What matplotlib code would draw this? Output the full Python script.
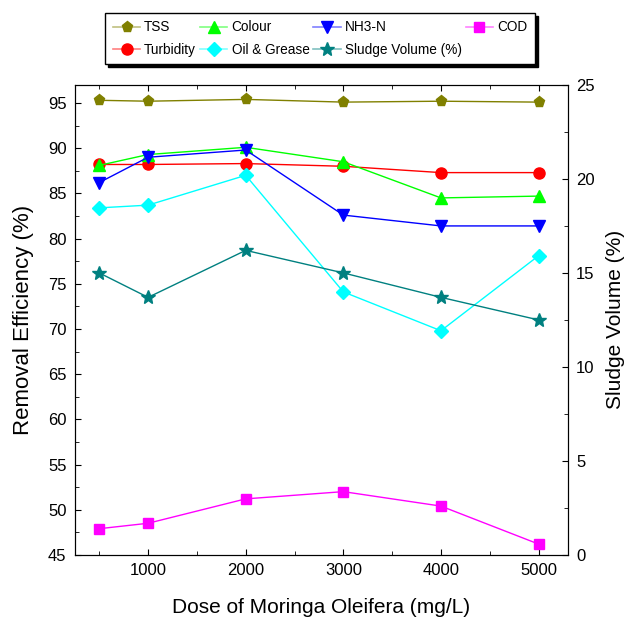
import matplotlib
matplotlib.use("Agg")
import matplotlib.pyplot as plt
from matplotlib.lines import Line2D
from matplotlib.colors import to_rgb
from matplotlib.ticker import MultipleLocator

plt.rcParams["font.family"] = ["Liberation Sans", "DejaVu Sans"]

dose = [500, 1000, 2000, 3000, 4000, 5000]
tss = [95.3, 95.2, 95.4, 95.1, 95.2, 95.1]
turbidity = [88.2, 88.2, 88.3, 88.0, 87.3, 87.3]
colour = [88.1, 89.3, 90.1, 88.5, 84.5, 84.7]
nh3 = [86.2, 89.0, 89.8, 82.6, 81.4, 81.4]
oil = [83.4, 83.7, 87.0, 74.1, 69.8, 78.1]
cod = [47.9, 48.5, 51.2, 52.0, 50.4, 46.2]
sludge = [15.0, 13.7, 16.2, 15.0, 13.7, 12.5]

fig = plt.figure(figsize=(6.24, 6.2), dpi=100)
ax = fig.add_axes([0.12, 0.105, 0.79, 0.758])
ax2 = ax.twinx()

styles = [
    ("TSS", tss, "olive", "p", 8),
    ("Turbidity", turbidity, "red", "o", 8),
    ("Colour", colour, "lime", "^", 8),
    ("Oil & Grease", oil, "cyan", "D", 7),
    ("NH3-N", nh3, "blue", "v", 8),
    ("Sludge Volume (%)", sludge, "teal", "*", 10),
    ("COD", cod, "magenta", "s", 7),
]

handles = []
for name, vals, c, m, ms in styles:
    target = ax2 if name.startswith("Sludge") else ax
    target.plot(dose, vals, color=c, marker=m, ms=ms, lw=1)
    # legend line drawn paler than the marker, as in the original
    light = tuple(0.5 + 0.5 * v for v in to_rgb(c))
    handles.append(Line2D([], [], color=light, lw=1.2, marker=m, ms=ms,
                          markerfacecolor=c, markeredgecolor=c, label=name))

ax.set_xlim(250, 5300)
ax.set_ylim(45, 97)
ax2.set_ylim(0, 25)
ax.set_xticks([1000, 2000, 3000, 4000, 5000])
ax.xaxis.set_minor_locator(MultipleLocator(500))
ax.yaxis.set_major_locator(MultipleLocator(5))
ax.yaxis.set_minor_locator(MultipleLocator(2.5))
ax2.yaxis.set_major_locator(MultipleLocator(5))
ax2.yaxis.set_minor_locator(MultipleLocator(2.5))

for a in (ax, ax2):
    a.tick_params(which="both", direction="in", labelsize=12, pad=6)
    a.tick_params(which="major", length=4)
    a.tick_params(which="minor", length=3)
ax.tick_params(which="both", top=True)

ax.set_xlabel("Dose of Moringa Oleifera (mg/L)", fontsize=15, labelpad=14)
ax.set_ylabel("Removal Efficiency (%)", fontsize=16, labelpad=10)
ax2.set_ylabel("Sludge Volume (%)", fontsize=15, labelpad=8)

leg = fig.legend(handles=handles, ncol=4, loc="upper center",
                 bbox_to_anchor=(0.513, 0.99), fontsize=9.8, frameon=True,
                 fancybox=False, shadow={"color": "black", "alpha": 1},
                 edgecolor="black", framealpha=1,
                 handlelength=2.0, columnspacing=0.3, handletextpad=0.3,
                 borderpad=0.55, labelspacing=0.6)
leg.get_frame().set_linewidth(1.0)

fig.savefig("out.png", dpi=100)
